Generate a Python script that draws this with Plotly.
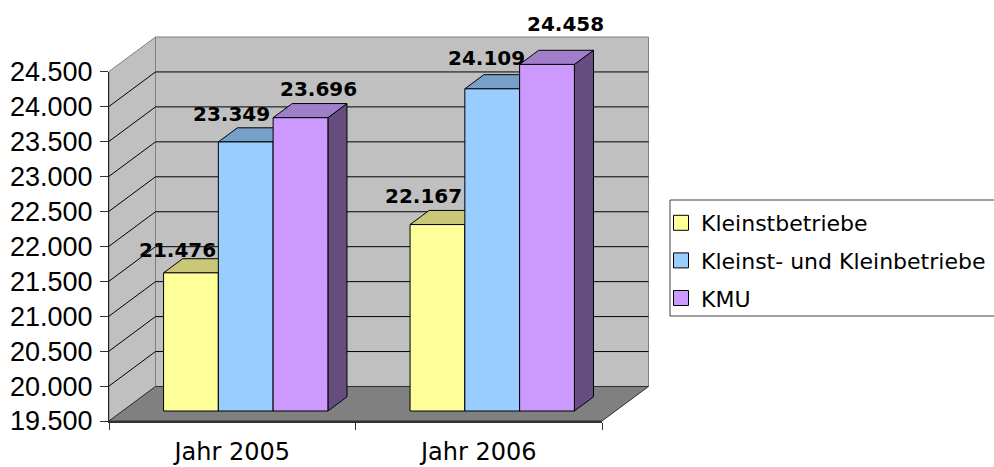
import plotly.graph_objects as go

# ---------------- data ----------------
CATEGORIES = ["Jahr 2005", "Jahr 2006"]
SERIES = ["Kleinstbetriebe", "Kleinst- und Kleinbetriebe", "KMU"]
KLEINSTBETRIEBE = [21476, 22167]
KLEINST_UND_KLEIN = [23349, 24109]
KMU = [23696, 24458]
Y_TICKS = [19500, 20000, 20500, 21000, 21500, 22000, 22500, 23000, 23500, 24000, 24500]

SERIES_VALUES = [KLEINSTBETRIEBE, KLEINST_UND_KLEIN, KMU]

# ---------------- styles ----------------
FRONT = ["#FFFF99", "#99CCFF", "#CC99FF"]
TOP = ["#C8C878", "#77A0C8", "#A07ECC"]
SIDE = ["#80804D", "#4D6680", "#664D80"]
WALL = "#C0C0C0"
FLOOR = "#808080"

# ---------------- geometry (pixels of the 994x467 canvas) ----------------
W, H = 994, 467
X0_PX = 109.0        # front-left corner
CAT_PX = 246.5       # width of one category on the front plane
BASE_PX = 421.0      # front baseline
TOP_PX = 71.5        # front top (24.500)
DEPTH_PX_X, DEPTH_PX_Y = 46.5, 34.5
Y_MIN, Y_MAX = Y_TICKS[0], Y_TICKS[-1]
PX_PER_V = (BASE_PX - TOP_PX) / (Y_MAX - Y_MIN)
DX = DEPTH_PX_X / CAT_PX
DY = DEPTH_PX_Y / PX_PER_V
N_CAT = len(CATEGORIES)
N_SER = len(SERIES)
BAR_W = 1.0 / (N_SER + 1.5)     # gap width 150 %
F1, F2 = 0.29, 0.70             # bar depth (fraction of floor depth)

X_RANGE = [-X0_PX / CAT_PX, (W - X0_PX) / CAT_PX]
Y_RANGE = [Y_MIN - (H - BASE_PX) / PX_PER_V, Y_MIN + BASE_PX / PX_PER_V]


def P(u, v, f):
    return (u + f * DX, v + f * DY)


def path(points):
    return "M " + " L ".join(f"{x:.5f},{y:.3f}" for x, y in points) + " Z"


def seg(p, q):
    return f"M {p[0]:.5f},{p[1]:.3f} L {q[0]:.5f},{q[1]:.3f}"


shapes = []


def poly(points, fill, line="#000000", lw=1):
    shapes.append(dict(type="path", path=path(points), xref="x", yref="y",
                       fillcolor=fill, line=dict(color=line, width=lw), layer="below"))


def line(p, q, color, lw=1):
    shapes.append(dict(type="path", path=seg(p, q), xref="x", yref="y",
                       line=dict(color=color, width=lw), layer="below"))


# walls and floor
poly([P(0, Y_MIN, 0), P(0, Y_MAX, 0), P(0, Y_MAX, 1), P(0, Y_MIN, 1)], WALL, "#808080")
poly([P(0, Y_MIN, 1), P(0, Y_MAX, 1), P(N_CAT, Y_MAX, 1), P(N_CAT, Y_MIN, 1)], WALL, "#808080")
for t in Y_TICKS[1:-1]:
    line(P(0, t, 0), P(0, t, 1), "#000000")
    line(P(0, t, 1), P(N_CAT, t, 1), "#000000")
poly([P(0, Y_MIN, 0), P(N_CAT, Y_MIN, 0), P(N_CAT, Y_MIN, 1), P(0, Y_MIN, 1)], FLOOR, "#303030")

# bars
annotations = []
LABEL_SHIFT_X = [[-13, -14.5, 17.5], [-14, -5.5, 18.5]]
LABEL_SHIFT_Y = [[23, 27.5, 28.7], [29, 31.3, 40.4]]
for c in range(N_CAT):
    for s in range(N_SER):
        v = SERIES_VALUES[s][c]
        uL = c + 0.5 + (s - N_SER / 2) * BAR_W
        uR = uL + BAR_W
        poly([P(uR, Y_MIN, F1), P(uR, v, F1), P(uR, v, F2), P(uR, Y_MIN, F2)], SIDE[s])
        poly([P(uL, v, F1), P(uL, v, F2), P(uR, v, F2), P(uR, v, F1)], TOP[s])
        poly([P(uL, Y_MIN, F1), P(uL, v, F1), P(uR, v, F1), P(uR, Y_MIN, F1)], FRONT[s])
        ax, ay = P((uL + uR) / 2, v, F1)
        annotations.append(dict(
            x=ax, y=ay, xref="x", yref="y", showarrow=False,
            text=f"{v:,}".replace(",", "."),
            xanchor="center", yanchor="middle",
            xshift=LABEL_SHIFT_X[c][s], yshift=LABEL_SHIFT_Y[c][s],
            font=dict(family="DejaVu Sans", size=20, color="#000000", weight="bold"),
        ))

# legend frame
shapes.append(dict(type="rect", xref="paper", yref="paper",
                   x0=670 / W, x1=1.01, y0=1 - 316 / H, y1=1 - 200 / H,
                   line=dict(color="#404040", width=1), fillcolor="rgba(0,0,0,0)",
                   layer="above"))

fig = go.Figure()
for s in range(N_SER):
    fig.add_trace(go.Scatter(
        x=[None], y=[None], mode="markers", name=SERIES[s], legendgroup=SERIES[s],
        marker=dict(symbol="square", size=15, color=FRONT[s],
                    line=dict(color="#000000", width=1)),
        xaxis="x", yaxis="y", hoverinfo="skip"))
fig.add_trace(go.Scatter(x=[None], y=[None], xaxis="x2", yaxis="y2",
                         showlegend=False, hoverinfo="skip"))

fig.update_layout(
    template="none",
    width=W, height=H, autosize=False,
    margin=dict(l=0, r=0, t=0, b=0, pad=0, autoexpand=False),
    paper_bgcolor="#FFFFFF", plot_bgcolor="rgba(0,0,0,0)",
    separators=",.",
    shapes=shapes, annotations=annotations,
    showlegend=True,
    xaxis=dict(domain=[0, 1], range=X_RANGE, visible=False, fixedrange=True,
               automargin=False),
    yaxis=dict(domain=[0, 1], range=Y_RANGE, visible=False, fixedrange=True,
               automargin=False),
    xaxis2=dict(domain=[X0_PX / W, (X0_PX + N_CAT * CAT_PX) / W], range=[0, N_CAT],
                anchor="y2", showgrid=False, zeroline=False, automargin=False,
                showline=True, linecolor="#303030", linewidth=2,
                tickmode="array", tickvals=[i + 0.5 for i in range(N_CAT)],
                ticktext=CATEGORIES, ticks="", ticklabelstandoff=8,
                tickfont=dict(family="DejaVu Sans", size=24, color="#000000"),
                minor=dict(tickmode="array", tickvals=list(range(N_CAT + 1)),
                           ticks="outside", ticklen=7, tickwidth=1, tickcolor="#303030",
                           showgrid=False),
                fixedrange=True),
    yaxis2=dict(domain=[(H - BASE_PX) / H, (H - TOP_PX) / H], range=[Y_MIN, Y_MAX],
                anchor="x2", showgrid=False, zeroline=False, automargin=False,
                showline=True, linecolor="#202020", linewidth=1,
                tickmode="array", tickvals=Y_TICKS, tickformat=",d",
                ticks="outside", ticklen=8, tickwidth=1, tickcolor="#303030",
                ticklabelstandoff=2,
                tickfont=dict(family="Liberation Sans", size=27, color="#000000"),
                fixedrange=True),
    legend=dict(x=661 / W, y=1 - 202 / H, xanchor="left", yanchor="top",
                bgcolor="rgba(0,0,0,0)", borderwidth=0,
                font=dict(family="DejaVu Sans", size=22, color="#000000"),
                tracegroupgap=6, itemclick=False, itemdoubleclick=False),
)

fig.write_html(
    "out.html",
    config={"displayModeBar": False, "staticPlot": False},
    post_script="document.body.style.margin='0';document.body.style.padding='0';"
                "document.documentElement.style.overflow='hidden';",
)
